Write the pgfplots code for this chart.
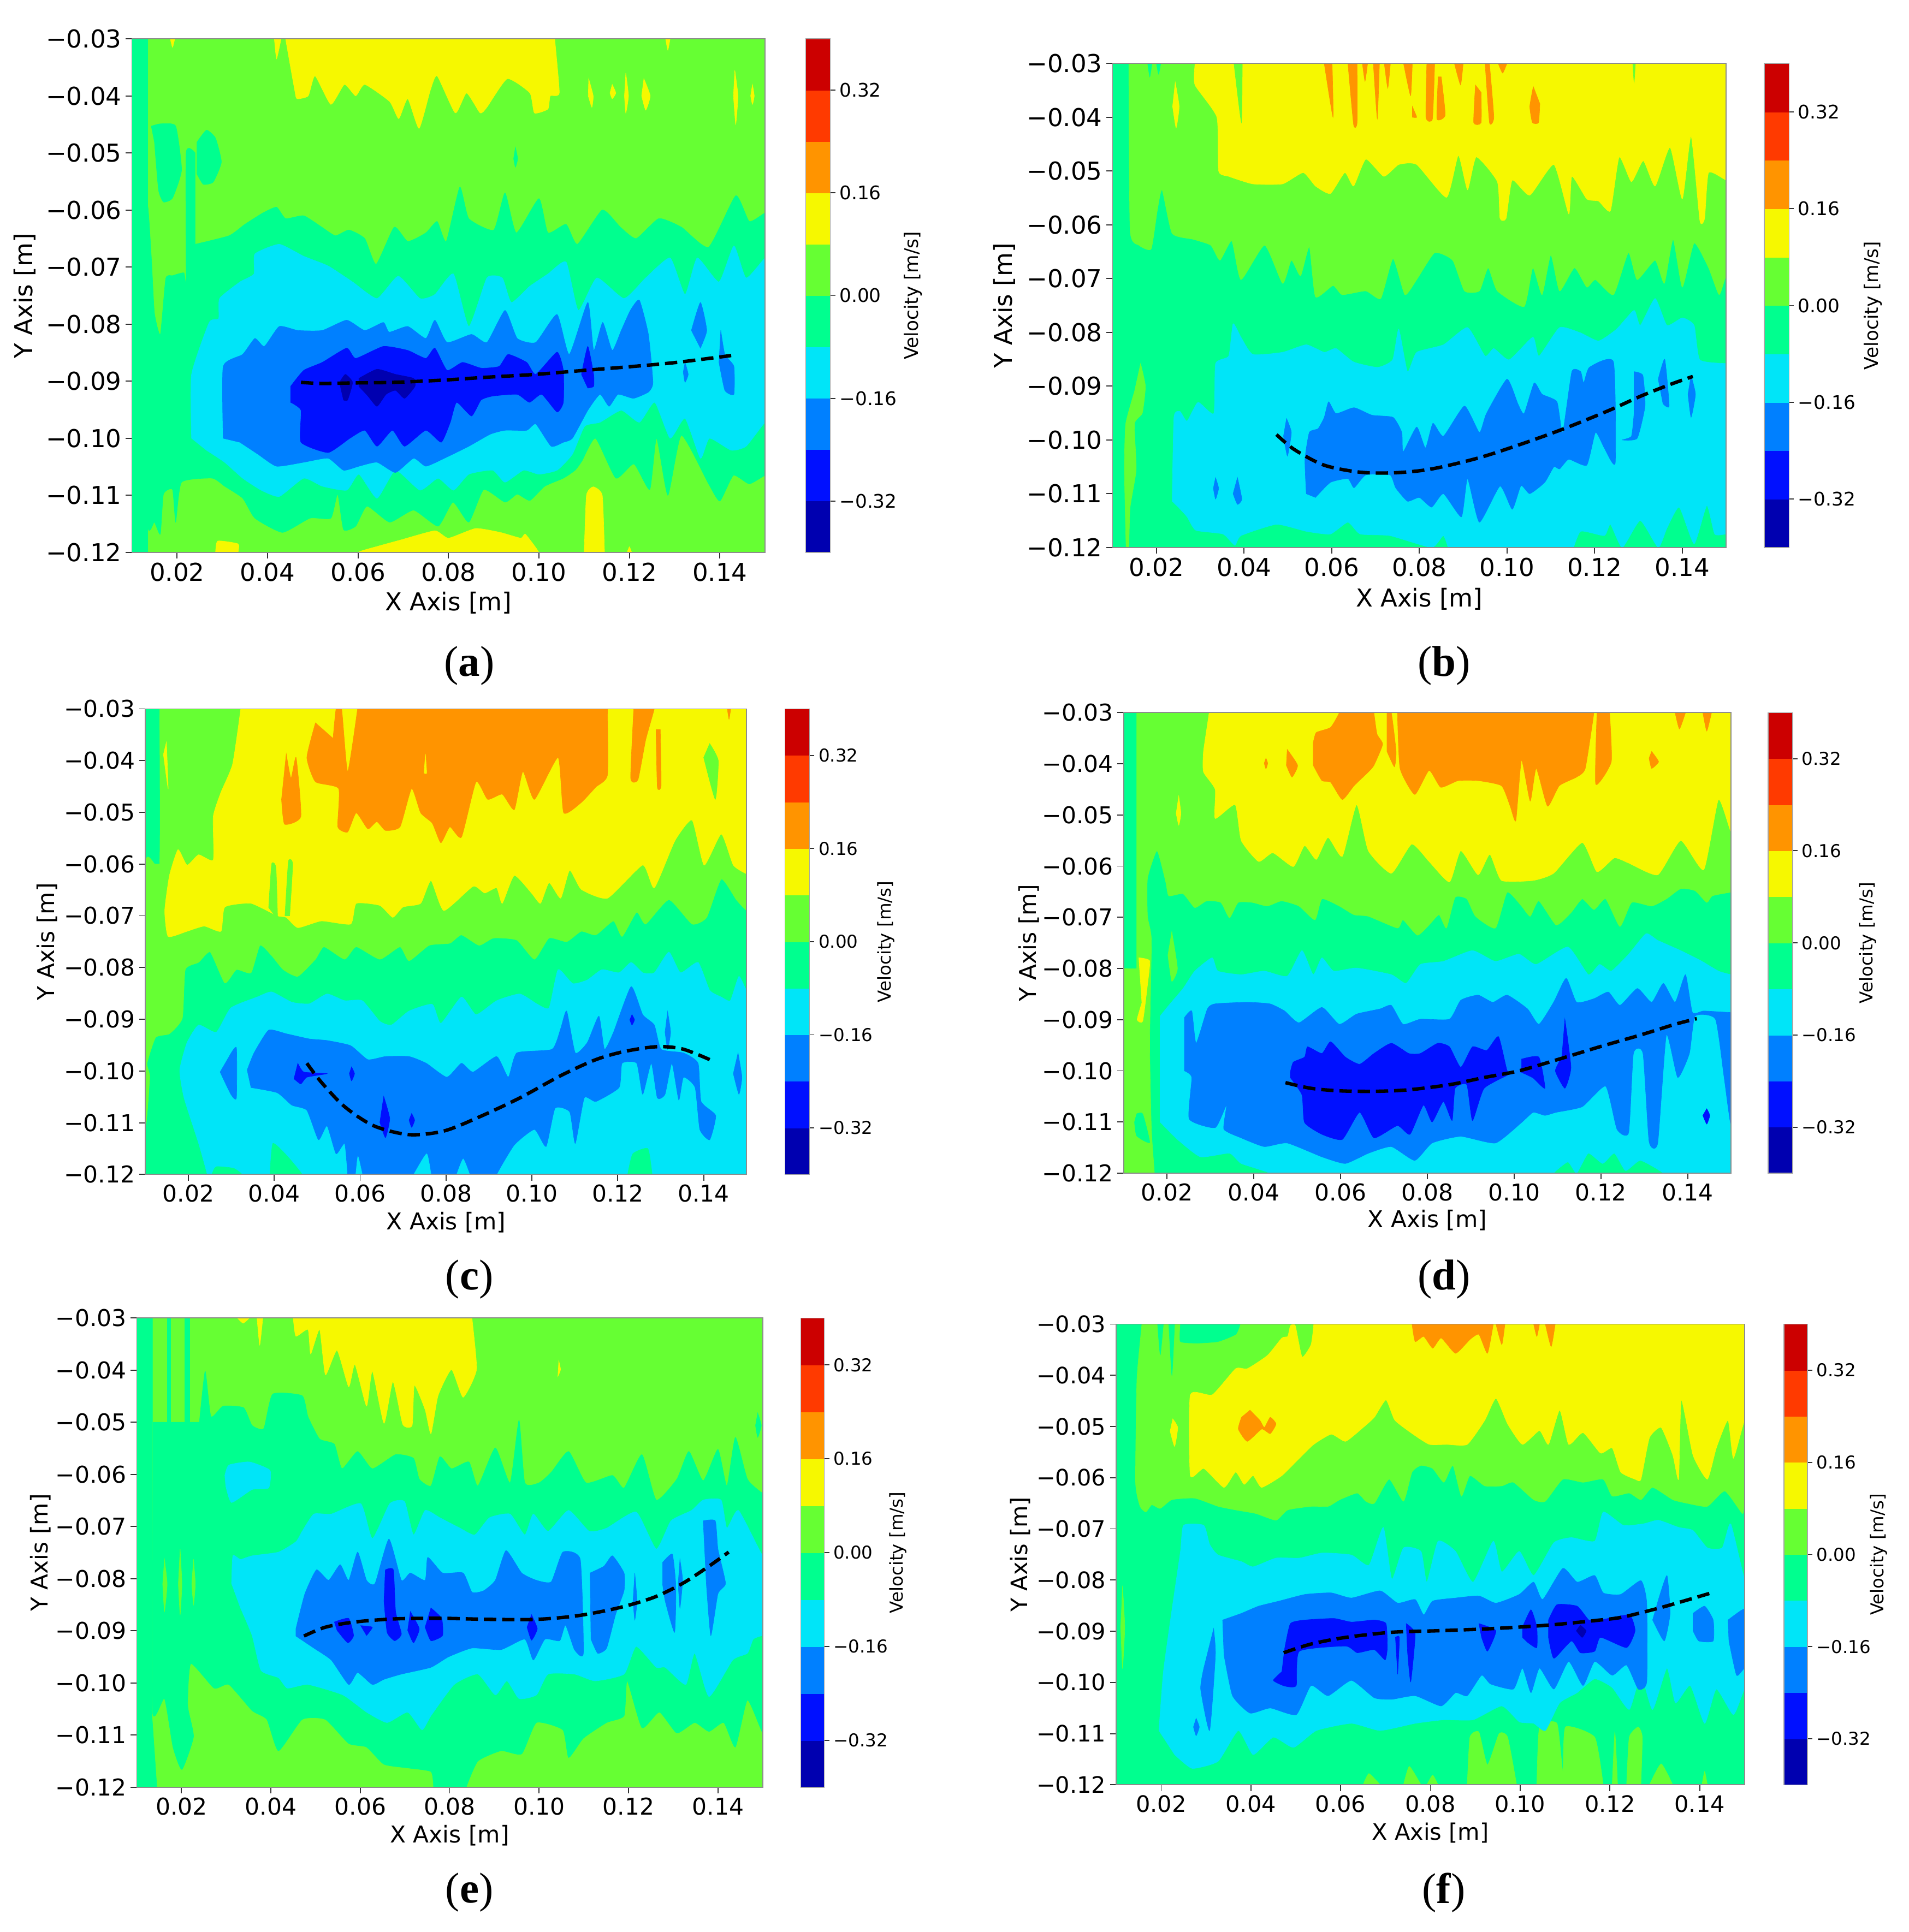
\documentclass[border=0pt]{standalone}
\usepackage{fontspec}
\setmainfont{DejaVu Sans}
\newfontfamily\capfont{Liberation Serif}
\usepackage{pgfplots}
\pgfplotsset{compat=1.18}

\definecolor{lvN}{HTML}{0000B0}
\definecolor{lvB}{HTML}{0010FF}
\definecolor{lvA}{HTML}{0080FF}
\definecolor{lvC}{HTML}{00E5F8}
\definecolor{lvS}{HTML}{00FF8F}
\definecolor{lvG}{HTML}{66FF33}
\definecolor{lvY}{HTML}{F6F800}
\definecolor{lvO}{HTML}{FF9400}
\definecolor{lvR}{HTML}{FF3A00}
\definecolor{lvD}{HTML}{CC0000}

% contour outlines are read off the figure, in mm (tick labels are in m)
\newcommand{\band}[2]{\addplot[fill=#1,draw=#1,line width=0.15pt] coordinates {#2} -- cycle;}
\newcommand{\reg}[2]{\addplot[smooth,tension=0.3,fill=#1,draw=#1,line width=0.15pt] coordinates {#2} -- cycle;}
\newcommand{\dashline}[1]{\addplot[black,smooth,line width=1.4pt,dash pattern=on 5pt off 2.4pt] coordinates {#1};}

\pgfplotsset{
  panel/.style n args={7}{
    at={(#1pt,#2pt)}, anchor=south west, scale only axis, width=#3pt, height=#4pt,
    xmin=10, xmax=150, ymin=-120, ymax=-30, axis on top,
    xtick={20,40,60,80,100,120,140},
    xticklabels={0.02,0.04,0.06,0.08,0.10,0.12,0.14},
    ytick={-120,-110,-100,-90,-80,-70,-60,-50,-40,-30},
    yticklabels={−0.12,−0.11,−0.10,−0.09,−0.08,−0.07,−0.06,−0.05,−0.04,−0.03},
    xtick pos=bottom, ytick pos=left,
    tick align=outside, major tick length=2.5pt, tick style={black!80,line width=0.4pt},
    axis line style={black!45,line width=0.4pt},
    ticklabel style={font=\fontsize{#5}{#5}\selectfont, inner sep=1.5pt},
    xlabel={X Axis [m]}, ylabel={Y Axis [m]},
    label style={font=\fontsize{#5}{#5}\selectfont},
    x label style={at={(axis description cs:0.5,0)},anchor=center,yshift=-#6pt},
    y label style={at={(axis description cs:0,0.5)},anchor=center,yshift=#7pt},
  },
}

\newcommand{\cbar}[6]{%
  \begin{axis}[at={(#1pt,#2pt)}, anchor=south west, scale only axis, width=#4pt, height=#3pt,
    xmin=0, xmax=1, ymin=-0.4, ymax=0.4, xtick=\empty, axis on top,
    ytick={-0.32,-0.16,0,0.16,0.32}, yticklabels={−0.32,−0.16,0.00,0.16,0.32},
    ytick pos=right, yticklabel pos=right, tick align=outside, major tick length=2pt,
    tick style={black!80,line width=0.4pt}, axis line style={black!35,line width=0.3pt},
    yticklabel style={font=\fontsize{#6}{#6}\selectfont, anchor=west, inner sep=1.5pt},
    ylabel={Velocity [m/s]},
    y label style={font=\fontsize{#6}{#6}\selectfont, at={(axis description cs:0,0.5)},
      anchor=center, yshift=-#5pt},
  ]
    \band{lvN}{(0,-0.40)(1,-0.40)(1,-0.32)(0,-0.32)}
    \band{lvB}{(0,-0.32)(1,-0.32)(1,-0.24)(0,-0.24)}
    \band{lvA}{(0,-0.24)(1,-0.24)(1,-0.16)(0,-0.16)}
    \band{lvC}{(0,-0.16)(1,-0.16)(1,-0.08)(0,-0.08)}
    \band{lvS}{(0,-0.08)(1,-0.08)(1,0.00)(0,0.00)}
    \band{lvG}{(0,0.00)(1,0.00)(1,0.08)(0,0.08)}
    \band{lvY}{(0,0.08)(1,0.08)(1,0.16)(0,0.16)}
    \band{lvO}{(0,0.16)(1,0.16)(1,0.24)(0,0.24)}
    \band{lvR}{(0,0.24)(1,0.24)(1,0.32)(0,0.32)}
    \band{lvD}{(0,0.32)(1,0.32)(1,0.40)(0,0.40)}
  \end{axis}}

\begin{document}
\begin{tikzpicture}
\path[use as bounding box] (0,0) rectangle (774.5pt,784.25pt);

% ---------- (a)
\begin{axis}[panel={53.5}{560}{257}{208.5}{10}{20.5}{43.5}]
\band{lvG}{(10,-120)(150,-120)(150,-30)(10,-30)}
\reg{lvS}{(24,-66)(31.5,-64.5)(35,-62.5)(39,-60.5)(42,-59.5)(44,-61.5)(48,-61)(52,-63)(55,-64.5)(58,-63.5)(61.5,-65)(64,-69.5)(68,-63)(71,-65.5)(75,-64)(77.5,-62)(79.5,-65.5)(82.5,-56)(84.5,-61.5)(90,-63.5)(92.5,-57)(95,-64)(100,-58)(102,-64)(106,-62.5)(108.5,-66)(114,-60)(118,-63)(121.5,-65)(126.5,-61.5)(131.5,-63)(137.5,-66.5)(143.5,-57.5)(146.5,-62)(150,-60.5)(152,-60.5)(152,-106.5)(150,-106.5)(146.5,-108)(143,-106.5)(140,-111)(137.5,-108)(131.5,-99.5)(128.5,-110)(126,-100)(124.5,-109)(121,-104.5)(117,-107)(112.5,-100)(109.5,-104)(108,-105.6)(105.4,-107)(101.3,-108.4)(98,-110.9)(95.2,-109.8)(92.5,-111.2)(87.8,-109)(84.5,-114.7)(81,-111.2)(77.7,-115.4)(72.3,-112.6)(67,-114.7)(62,-111.9)(59.5,-115.4)(56.8,-116)(55.5,-109.8)(54,-114)(49.4,-114)(43.3,-116.5)(37.2,-114)(34.5,-110.5)(30.5,-108.4)(27.8,-107)(21,-107.7)(19.7,-114.7)(19,-109)(17,-109.8)(16.3,-116.8)(15,-114.7)(13.4,-114)(13.4,-60)(14.3,-68)(15,-78)(16.3,-81.8)(17.5,-72)(19,-71.5)(21.5,-71)(22,-72.5)(22,-50)(24,-50)}
\band{lvS}{(10,-120)(13.5,-120)(13.5,-30)(10,-30)}
\reg{lvS}{(14.3,-45.3)(16.3,-44.9)(19.7,-45.3)(21,-53)(19,-57.9)(17,-58.6)(15.9,-56.5)(15,-48.1)}
\reg{lvS}{(24.4,-48.1)(26.5,-46)(28.5,-47.4)(29.8,-51.6)(28,-55.1)(25.8,-55.5)(24.4,-53.7)}
\reg{lvS}{(94.8,-49)(95.3,-51)(94.8,-52.5)(94.4,-51)}
\reg{lvY}{(44,-28)(44,-30)(46,-39)(46.5,-40.5)(49,-40)(50.5,-36.5)(54,-41.5)(57,-38)(59.5,-40)(61.5,-38)(67,-41)(69,-44)(71,-40.5)(73.5,-45.7)(76,-39)(77.5,-36.5)(81.5,-43)(84,-39.5)(87,-43)(88.5,-42)(93,-37)(98,-39.5)(99,-43)(102,-42.3)(102.5,-40)(104.5,-39.5)(103.5,-30)(103.5,-28)}
\reg{lvY}{(41.5,-30)(42,-33.5)(43,-30)}
\reg{lvY}{(18.5,-30)(19,-31.5)(19.5,-30)}
\reg{lvY}{(128,-30)(128.5,-32)(129,-30)}
\reg{lvY}{(111,-37)(112,-40)(111.7,-42)(110.9,-40)}
\reg{lvY}{(116.2,-38)(117,-39.5)(116.2,-40.5)(115.7,-39.5)}
\reg{lvY}{(119.2,-36)(119.8,-40)(119.2,-43)(118.9,-40)}
\reg{lvY}{(123.2,-37)(124.6,-40)(123.6,-42.5)(122.7,-40)}
\reg{lvY}{(143.3,-35.5)(144,-40)(143.5,-45)(143,-40)}
\reg{lvY}{(147.2,-38)(147.6,-40)(147.2,-41.5)(146.8,-40)}
\reg{lvY}{(28.5,-122)(28.5,-120)(29,-118)(33.5,-118.5)(33.5,-120)(33.5,-122)}
\reg{lvY}{(60,-122)(60,-120)(64,-119)(69.5,-117.8)(77,-116.2)(80,-117.5)(86,-115.8)(91.5,-116.5)(96,-117.5)(97,-116.8)(100,-120)(100,-122)}
\reg{lvY}{(110,-122)(110,-120)(110.5,-110)(112,-108.5)(114,-110)(114.5,-120)(114.5,-122)}
\reg{lvY}{(119.5,-120)(120,-119)(120.5,-120)}
\reg{lvC}{(23.2,-100)(23.2,-88.8)(27.1,-79.7)(29.2,-79)(29.4,-75.5)(33.9,-72.6)(37,-71.2)(37.2,-67.7)(42.6,-66)(48,-68.1)(53.4,-69.8)(58.8,-72.6)(64.2,-75.5)(68.9,-71.6)(73.7,-75.5)(77,-74.8)(81.1,-71.2)(84.5,-80.4)(88.5,-71.9)(91.9,-71.9)(93.9,-76.2)(97.9,-73.4)(102,-71.2)(106,-69.1)(108.7,-77.6)(112.8,-71.9)(118.8,-75.5)(123.6,-71.9)(129,-68.4)(132.3,-74.8)(135,-68.4)(139.8,-72.6)(143.1,-66.3)(145.8,-71.9)(150,-68.4)(152,-68.4)(152,-97.2)(150,-97.2)(145.8,-101.4)(142.5,-102.1)(137.7,-100)(135.7,-103.5)(132.3,-96.5)(129,-100)(125.6,-93.7)(122.2,-97.2)(118.2,-95.1)(113.5,-97.2)(110.1,-97.9)(107.4,-102.8)(104,-105.6)(100,-106.3)(96.6,-105.6)(92.5,-107.7)(89.8,-105.6)(84.5,-106.3)(81.1,-109.1)(77.7,-107)(73.7,-109.1)(68.3,-105.6)(64.2,-110.5)(60.2,-106.3)(57.5,-109.1)(52.1,-108.4)(48,-107)(42.6,-110.2)(38.6,-109.1)(34.5,-107)(30.5,-104.2)(26.5,-102.1)}
\reg{lvA}{(30.2,-100)(30.2,-87.4)(34.5,-85.3)(37.2,-82.5)(39.3,-83.9)(42.6,-80.4)(46.7,-81.1)(52.1,-81.1)(57.5,-79.3)(61.5,-81.1)(65.6,-79.7)(66.9,-81.4)(71,-80.4)(75,-82.5)(77,-79.3)(79.7,-83.2)(85.1,-81.8)(88.5,-83.2)(92.5,-77.6)(95.2,-82.5)(99.3,-83.2)(104,-78.3)(106.7,-85.3)(110.8,-76.2)(112.1,-84.6)(114.1,-79.7)(116.2,-84.6)(118.2,-81.1)(120.2,-77.6)(122.2,-75.8)(124.2,-81.8)(125.2,-90.2)(124.2,-91.9)(120.9,-93)(117.5,-92.3)(115.5,-94.4)(113.5,-92.3)(110.8,-95.1)(107.4,-100)(105.4,-100.7)(102.7,-101.4)(99.3,-97.5)(97.3,-98.6)(92.5,-98.6)(89.2,-99.3)(84.5,-101.4)(79.1,-103.5)(75,-104.9)(72.3,-103.5)(68.3,-106)(64.2,-104.2)(60.2,-104.9)(56.8,-105.6)(53.4,-103.5)(48,-104.2)(42,-104.9)(37.9,-102.8)(33.9,-100.7)}
\reg{lvA}{(133.7,-81.1)(135.7,-76.2)(137.1,-81.1)(135.7,-84.2)}
\reg{lvA}{(140.2,-81.1)(141.1,-85.3)(143.1,-87.4)(143.1,-92.3)(141.1,-91.6)(139.8,-86.7)}
\reg{lvA}{(132.3,-86.7)(133,-88.8)(132.3,-90.2)(131.9,-88.4)}
\reg{lvB}{(45.1,-90.9)(48,-88.1)(52.1,-86.7)(57.5,-84.2)(59.5,-86)(65.6,-83.9)(71,-84.6)(75,-86)(77,-84.2)(79.7,-88.1)(83.1,-86.7)(87.2,-87.7)(91.2,-87.4)(93.2,-85.3)(97.3,-86.7)(99.3,-88.8)(104,-84.9)(105.4,-88.1)(105.4,-93.7)(104,-95.4)(100.6,-92.3)(97.9,-93.7)(95.2,-92.3)(89.8,-92.6)(87.2,-93.3)(85.1,-96.1)(81.8,-93.7)(80.4,-97.2)(78.4,-100.7)(75,-98.6)(70.3,-101.4)(67.6,-98.6)(64.2,-101.4)(61.5,-98.6)(58.2,-100)(53.4,-102.5)(47.4,-100.7)(47.4,-95.1)(45.1,-93.7)}
\reg{lvB}{(109.4,-88.8)(110.8,-83.9)(112.1,-88.8)(112.1,-90.9)(110.8,-91.2)}
\reg{lvN}{(55.9,-90.2)(57.2,-88.8)(58.8,-90.2)(57.7,-93.3)(56.8,-93.3)}
\reg{lvN}{(60.2,-89.5)(64.2,-87.9)(68.3,-88.8)(72.3,-89.5)(72.6,-90.9)(70.3,-93)(68.3,-91.6)(66.2,-92.3)(64.2,-94.4)(62.2,-92.6)(60.2,-90.9)}
\dashline{(47.4,-90.2)(52,-90.4)(59,-90.3)(68,-90.2)(79,-89.8)(88.5,-89.3)(99.3,-88.8)(110,-88.1)(121,-87.4)(130.5,-86.7)(142.5,-85.5)}
\end{axis}
\cbar{327}{560}{208.5}{10}{43.5}{7.6}

% ---------- (b)
\begin{axis}[panel={451.5}{562}{249}{196.5}{10}{21}{44}]
\band{lvS}{(10,-120)(150,-120)(150,-30)(10,-30)}
\reg{lvG}{(13.7,-28)(13.7,-30)(14,-61)(16,-63.8)(18.8,-64.5)(20.2,-57.4)(21.3,-53.5)(23.6,-61.6)(28.4,-62.7)(32.4,-63.8)(34.5,-66.6)(37.2,-63)(39.3,-70.2)(44.7,-63.8)(48.8,-70.9)(50.8,-66.6)(52.9,-69.5)(54.9,-64.1)(56.3,-73.4)(60.3,-71.3)(62.4,-73)(67.8,-72.3)(71.2,-73.7)(74,-66.3)(76.7,-73)(79.4,-70.2)(83.5,-65.2)(87.6,-66.6)(90.3,-72.3)(93.7,-72.3)(95.7,-68)(97.8,-72.3)(103.9,-75.2)(105.9,-68)(108,-73)(110,-65.6)(112,-72.3)(115.4,-68)(118.2,-71.6)(120.2,-70.2)(124.3,-73)(127.7,-65.2)(129.7,-70.2)(133.8,-66.6)(135.9,-70.9)(137.9,-62.7)(140,-71.6)(142.7,-63.4)(146,-68)(148.4,-73)(150,-69.5)(152,-69.5)(152,-28)}
\reg{lvS}{(18,-30)(18.5,-32.5)(19,-30)}
\reg{lvS}{(20,-30)(20.5,-32)(21,-30)}
\reg{lvG}{(16.4,-85.8)(17.5,-90)(16.8,-95)(15,-97)(15.4,-105.5)(14,-112.6)(13.7,-120)(13.1,-120)(12.7,-105.5)(13,-97)(15,-91)}
\reg{lvY}{(28.8,-28)(28.8,-30)(28.8,-34)(33.8,-40)(34.2,-50)(36.5,-51)(42,-52.4)(48.8,-52.4)(53.5,-50.3)(56.3,-52.8)(59.7,-54.2)(63,-50.3)(65,-52.8)(67.8,-47.8)(71.9,-51)(75.3,-48.8)(79.4,-48.8)(86.2,-54.9)(88.9,-47.1)(91,-53.5)(93,-47.4)(97.8,-52)(98.4,-58.8)(99.8,-58.8)(101.2,-51.7)(105.2,-54.5)(110.7,-48.8)(114.1,-58)(114.8,-51)(118.2,-55.2)(120.9,-55.6)(123.6,-57.4)(125.6,-47.4)(128.4,-52)(131.1,-48.1)(133.8,-52.8)(137.2,-45.6)(140,-55.2)(142,-43.5)(144,-59.2)(145.1,-58.8)(146,-50.3)(150,-51.7)(152,-51.7)(152,-28)}
\reg{lvG}{(37.7,-30)(39.4,-41)(39.6,-30)}
\reg{lvG}{(128.7,-30)(129,-33.5)(129.3,-30)}
\reg{lvY}{(24.3,-33.5)(25.2,-38)(24.5,-42)(23.7,-38)}
\reg{lvO}{(58.3,-30)(60.3,-40)(60.1,-30)}
\reg{lvO}{(63.7,-30)(65,-41.4)(65.8,-41)(65.8,-30)}
\reg{lvO}{(67,-30)(67.6,-33.3)(68.2,-30)}
\reg{lvO}{(69.5,-30)(70.4,-40.3)(70.9,-30)}
\reg{lvO}{(72,-30)(72.8,-34.6)(73.4,-30)}
\reg{lvO}{(76.4,-30)(78,-36)(78.4,-30)}
\reg{lvO}{(78.4,-38)(79.4,-40)(78.4,-40)}
\reg{lvO}{(81.7,-30)(81.5,-40)(83,-40.3)(83.5,-30)}
\reg{lvO}{(84.3,-32.5)(84,-40.3)(85.9,-39.6)(85,-32.5)}
\reg{lvO}{(88,-30)(89.4,-34)(90,-30)}
\reg{lvO}{(92.8,-34)(92.4,-41)(94.1,-41)(94.1,-35.4)}
\reg{lvO}{(95,-30)(96,-41)(97,-40)(96,-30)}
\reg{lvO}{(98,-30)(99,-31.8)(100,-30)}
\reg{lvO}{(106,-34.3)(105.2,-38)(105.8,-41)(107.2,-41)(107.5,-37.5)}
\reg{lvC}{(23.6,-111.4)(24,-95.8)(25.4,-94.7)(27,-96.5)(29.5,-93)(33.1,-95.1)(33.5,-85.8)(36.5,-84.4)(37.5,-78.4)(39.3,-80.9)(42,-84.1)(48.8,-83.7)(54.2,-82.3)(58.3,-83.7)(61,-83)(65,-85.5)(70.5,-86.5)(73.9,-85.1)(75.3,-79.4)(77.3,-87.3)(79.4,-83.7)(85.5,-82.3)(91,-79.1)(95,-84.4)(97,-83)(100.5,-85.1)(105.9,-80.9)(107.3,-84.4)(112,-79.1)(116.8,-80.1)(120.9,-81.6)(125,-79.4)(129,-75.9)(130.4,-78.7)(133.8,-73.7)(136.5,-78.7)(140,-77.3)(142.7,-78.7)(144,-85.1)(150,-85.8)(152,-85.8)(152,-117.5)(150,-117.5)(147.4,-117.5)(145.6,-112.2)(142.7,-119.3)(139.3,-112.5)(136.5,-116.4)(134.5,-120)(130.4,-115)(126.3,-120)(123.6,-115.7)(122.2,-117.8)(116.8,-117)(114.8,-121)(114.8,-122)(86.9,-122)(86.9,-121)(85.5,-117.8)(82.8,-120)(73.3,-117.8)(66.5,-117.5)(63.7,-115.3)(59.7,-117.5)(54.2,-117)(47.4,-115.7)(39.3,-117.8)(37.9,-119.6)(35.2,-117.5)(29,-116.8)(27,-114.3)(25,-112.5)}
\reg{lvA}{(54.2,-110)(53.9,-103.6)(54.9,-98.6)(56.9,-97.9)(58.3,-95.8)(59.3,-92.9)(61,-95.1)(65.1,-94)(69.2,-95.4)(74,-95.8)(76,-98.6)(76.3,-102.2)(79.4,-97.6)(81.4,-101.5)(83.1,-96.9)(85.5,-99.3)(90.3,-93.7)(93.7,-98.6)(95.3,-95.1)(100,-88.7)(102.5,-93.3)(103.9,-95.1)(106.2,-89.4)(108,-91.5)(111.4,-92.9)(112.7,-98.6)(114.8,-87.3)(116.8,-87.3)(117.5,-89.4)(118.8,-86.5)(124.3,-85.5)(124.7,-104.3)(122.2,-101.5)(120.2,-98.6)(118.2,-104.7)(114.1,-103.6)(112,-105.4)(110.7,-105)(108.6,-107.9)(105.2,-110)(103.2,-108.5)(101.2,-112.9)(98.4,-108.6)(93.7,-115.3)(91,-107.2)(89.6,-114.3)(85.5,-110)(82.8,-112.5)(80,-110.7)(77.3,-111.4)(74.6,-108.9)(73.3,-106.5)(67.8,-106.5)(65.1,-108.9)(63.7,-107.2)(59.7,-107.9)(56.3,-110.7)}
\reg{lvA}{(129,-87.3)(131,-88)(131.5,-93.7)(129.7,-99.7)(126.3,-100)(128.4,-99.3)(129,-95)}
\reg{lvA}{(134.5,-88.7)(136,-85)(137,-93.7)(135.6,-93.3)}
\reg{lvA}{(142,-88)(143,-91.5)(142,-95.8)(141.3,-91.5)}
\reg{lvA}{(49.7,-96)(50.8,-98.6)(49.9,-103)(49,-99.3)}
\reg{lvA}{(33.5,-107)(34.2,-109)(33.5,-111)(33,-109)}
\reg{lvA}{(38.5,-107)(39.5,-111)(38.5,-112)(37.5,-110)}
\dashline{(47.4,-99)(51.5,-101.8)(58.3,-104.7)(66.5,-106)(74.6,-106.1)(82.8,-105.4)(93.7,-103.3)(104.6,-100.4)(114,-97.6)(123.6,-94.4)(130.4,-91.9)(137.2,-89.7)(142.4,-88.2)}
\end{axis}
\cbar{716}{562}{196.5}{10}{44}{7.6}

% ---------- (c)
\begin{axis}[panel={59}{307.5}{244}{189}{9.4}{19.5}{40}]
\band{lvS}{(10,-120)(150,-120)(150,-30)(10,-30)}
\band{lvG}{(10,-60)(13.3,-60)(13.3,-70)(10,-100)}
\reg{lvG}{(13.3,-28)(13.3,-60)(10,-60)(10,-109.9)(11,-101.2)(10.4,-98.5)(12.4,-93.5)(15.6,-92.8)(18.6,-89.8)(19.3,-80.4)(22.4,-79)(25.1,-77)(28.5,-83)(31.2,-80.4)(34.6,-81)(36.7,-75.7)(39.4,-77.7)(42.1,-80.4)(45.5,-81.7)(49.6,-78.4)(51.6,-76)(56.4,-78.4)(59.1,-76)(64.6,-78.4)(69.3,-76)(71.4,-78.7)(76.1,-75.7)(80.9,-75.3)(83.6,-73.7)(87.7,-75.7)(91.1,-74.3)(96.5,-74.7)(100.6,-78.4)(104,-74.3)(108.1,-75)(111.5,-73)(114.9,-73.7)(119,-71)(121,-74)(124.4,-69.3)(126.5,-71.6)(131.9,-66.9)(137.3,-71.6)(140.7,-70.3)(144.1,-62.9)(147.6,-66.9)(150,-69)(152,-69)(152,-28)}
\reg{lvY}{(32.2,-28)(32.2,-30)(30.3,-40.7)(27.6,-46.1)(25.8,-50.8)(25.8,-59.2)(22.4,-58.2)(19.7,-60.2)(17.6,-57.2)(15.6,-62.2)(14.5,-69)(15.3,-74)(19.7,-73)(23.7,-72)(27.6,-73)(28.5,-68.3)(34.6,-67.6)(40.7,-70)(42.8,-70.3)(45.5,-72.3)(51,-71)(57.8,-71.6)(59.1,-67.6)(64.6,-68)(67.6,-70.3)(70,-68.3)(74.1,-67.6)(76.5,-63.2)(79.5,-69)(86.3,-64.3)(89,-65.6)(91.8,-64.6)(93.1,-67.6)(95.9,-62.2)(99.9,-65.6)(102,-67.6)(104,-63.6)(106.7,-66.6)(108.8,-61.2)(111.5,-64.9)(117.6,-66.6)(125.8,-60.2)(128.5,-64.6)(133.3,-55.5)(137.3,-51.5)(140.1,-60.2)(144.1,-54.2)(146.9,-60.2)(150,-61.9)(152,-61.9)(152,-28)}
\reg{lvG}{(38.7,-68.4)(39.4,-60)(40.4,-60.7)(40.8,-70.7)}
\reg{lvG}{(42.5,-70)(43.3,-59.5)(44.3,-60)(43.6,-70)}
\reg{lvG}{(141.4,-36.7)(143.4,-40)(142.7,-47.5)(140,-39.4)}
\reg{lvY}{(14.9,-36.4)(15.3,-45.4)(14.2,-38.8)}
\reg{lvO}{(49.6,-32.7)(47.6,-39.4)(49.6,-44.1)(55,-45.4)(54.8,-52.8)(57.1,-53.8)(59.1,-50.1)(61.8,-53.2)(63.9,-51.8)(65.9,-53.5)(69.3,-52.8)(72,-45.4)(74.1,-50.1)(76.8,-52.1)(78.8,-55.9)(80.9,-52.8)(83.6,-54.8)(87,-44.1)(89.7,-47.5)(93.1,-46.5)(95.9,-49.5)(97.9,-42.1)(100.6,-47.5)(106.1,-39.4)(107.4,-50.1)(111.5,-48.1)(114.9,-45.1)(117.6,-42.8)(117.6,-30)(117.6,-28)(59.4,-28)(59.4,-30)(57.1,-42.1)(55.7,-30)(54.4,-30)(53.7,-35.7)}
\reg{lvO}{(42.8,-38.7)(43.9,-43.4)(45.1,-39.4)(46.2,-50.8)(42.4,-52.3)(41.7,-47.5)}
\reg{lvO}{(123.7,-28)(123.7,-30)(123,-43.4)(124.7,-43.7)(126.5,-36)(128.5,-30)(128.5,-28)}
\reg{lvO}{(128.9,-34)(129.2,-45.1)(130.1,-44.8)(129.9,-34)}
\reg{lvO}{(145.5,-30)(145.9,-32)(146.3,-30)}
\reg{lvY}{(75.2,-38.7)(75.5,-42.4)(74.9,-42.4)}
\reg{lvC}{(24.4,-122)(24.4,-120)(22.4,-114)(19,-105.2)(18,-99.8)(19.7,-94.5)(22.4,-91.1)(26.5,-92.5)(29.9,-87.8)(36,-85.7)(39.4,-84.7)(44.1,-86.7)(48.2,-87)(52.3,-85.1)(56.4,-86.4)(60.5,-86.4)(64.6,-90.4)(67.3,-91.1)(71.4,-88.4)(76.8,-87.1)(78.8,-90.8)(83.6,-85.7)(87,-89.1)(91.8,-86.4)(97.2,-85.1)(101.3,-87.1)(104,-87.8)(106.1,-80.4)(109.5,-83.1)(112.9,-82.4)(116.3,-80.4)(120.3,-81)(123.1,-79)(125.8,-81)(128.5,-81)(131.9,-77)(134.6,-81)(138.7,-79)(141.4,-84.4)(144.1,-85.7)(146.2,-86.4)(148.2,-81.7)(150,-84.4)(152,-84.4)(152,-122)}
\reg{lvS}{(25.5,-122)(25.5,-120)(26.5,-118.5)(30.5,-118.8)(32.5,-120)(32.5,-122)}
\reg{lvS}{(39,-122)(39,-120)(39.7,-114)(43.2,-116.6)(46.5,-120)(46.5,-122)}
\reg{lvS}{(122.3,-122)(122.3,-120)(123.5,-116)(127,-115)(128,-120)(128,-122)}
\reg{lvA}{(33.7,-99.8)(35.3,-96.5)(38.7,-92.1)(42.8,-92.8)(48.2,-93.8)(52.3,-94.1)(57.8,-95.1)(61.8,-97.8)(65.9,-97.2)(71.4,-97.2)(75.4,-98.5)(80.2,-101.2)(83.6,-98.5)(86.3,-100.2)(91.8,-97.2)(94.5,-101.2)(96.5,-96.5)(104.7,-95.8)(106.7,-91.8)(108.1,-88.4)(110.1,-96.5)(112.9,-94.5)(115.6,-89.4)(116.9,-95.8)(119,-92.5)(123.1,-83.7)(125.8,-89.1)(128.5,-91.1)(130.1,-95.8)(135.3,-96.5)(138.7,-98.5)(139.4,-105.9)(142.8,-108.6)(141.4,-113.3)(139.1,-111.3)(138,-103.2)(135.3,-101.2)(134.2,-105.6)(132.6,-98.5)(131,-104.5)(129.2,-105.2)(127.8,-98.5)(125.8,-104.5)(124.4,-98.5)(121,-98.5)(120.3,-103.2)(114.9,-105.9)(112.2,-105.2)(110.1,-114)(108.8,-107.9)(105.4,-107.2)(103.3,-114.6)(100.6,-111.3)(95.9,-114.3)(91.8,-120)(91.8,-122)(57.1,-122)(57.1,-120)(56.4,-114)(54.4,-116)(52.3,-110.6)(50.3,-113.3)(47.6,-107.6)(44.1,-106.6)(40.7,-104.2)(34.6,-103.2)}
\reg{lvA}{(29.5,-97.2)(31.2,-95.5)(31.2,-105.2)(29.9,-104.5)(27.4,-100.2)}
\reg{lvA}{(148,-96.5)(148.9,-101.2)(148.2,-104.5)(146.9,-100.5)}
\reg{lvA}{(131.6,-88.5)(132.3,-92.5)(131.6,-95.8)(131,-92.5)}
\reg{lvC}{(59,-120)(59.5,-116.5)(60.5,-120)}
\reg{lvC}{(72.5,-120)(75.5,-116)(76.5,-120)}
\reg{lvC}{(82.5,-120)(84,-117)(85.5,-120)}
\reg{lvB}{(45.5,-98.5)(46.9,-100.2)(52.3,-100.5)(47.6,-101.2)(46.2,-102.5)(44.6,-101.5)}
\reg{lvB}{(58,-99.2)(58.7,-100.5)(58,-101.9)(57.5,-100.5)}
\reg{lvB}{(65.5,-104.9)(66.9,-109.2)(65.9,-112.9)(64.6,-109.9)}
\reg{lvB}{(72,-108.2)(72.7,-109.5)(72,-110.9)(71.4,-109.5)}
\reg{lvB}{(123.3,-89.1)(123.9,-90.1)(123.3,-91.1)(122.8,-90.1)}
\dashline{(47.6,-98.5)(51,-102.2)(56.4,-106.9)(63.2,-110.6)(71.4,-112.3)(79.5,-111.6)(87.7,-108.9)(97.2,-105.2)(106.7,-100.9)(114.9,-97.8)(121.7,-96.2)(129.2,-95.3)(135.3,-95.8)(142.5,-98.2)}
\end{axis}
\cbar{318.5}{307.5}{189}{10}{41}{7.2}

% ---------- (d)
\begin{axis}[panel={456}{308}{246.5}{187}{9.4}{19}{38.5}]
\band{lvS}{(10,-120)(150,-120)(150,-30)(10,-30)}
\reg{lvG}{(10,-122)(17.1,-122)(17.1,-120)(16.4,-111.4)(16,-94.6)(16.4,-74.5)(15.5,-69.8)(15.5,-62.4)(17.7,-57)(19.7,-63.1)(20.4,-65.8)(23.7,-65.4)(26.4,-68.1)(29.1,-66.8)(32.4,-67.1)(34.4,-70.1)(36.4,-67.1)(39.7,-67.1)(43.1,-67.8)(46.4,-66.8)(50.4,-67.8)(54.1,-70.5)(55.7,-66.4)(59.7,-67.8)(63.1,-69.5)(66.4,-69.8)(73.1,-72.1)(74.4,-70.5)(77.7,-73.5)(80.4,-71.5)(82.7,-69.5)(84.4,-72.1)(86.4,-66.1)(89.1,-66.4)(91.1,-69.8)(95.7,-72.1)(98.4,-65.1)(101.7,-67.8)(103.7,-69.8)(105.7,-66.8)(109.7,-71.5)(113.1,-69.1)(115.7,-66.4)(118.4,-68.5)(121.1,-66.4)(124.4,-71.8)(127.1,-67.1)(131.7,-67.8)(135.1,-66.4)(138.4,-64.4)(141.7,-64.8)(144.4,-67.1)(145.7,-65.8)(150,-65.1)(152,-65.1)(152,-28)(13,-28)(13,-30)(13,-79)(13,-80)(10,-80)(8,-80)(8,-122)}
\reg{lvS}{(13,-108.4)(14.4,-108.4)(16,-114)(13,-112.7)(12.5,-110)}
\reg{lvY}{(13.5,-77.9)(16,-78.5)(15.5,-83.2)(14.4,-90.3)(13.1,-90)(14.2,-86.7)}
\reg{lvG}{(21.1,-72.8)(22.4,-80)(21.1,-82.5)(20.2,-77.4)}
\reg{lvY}{(22.7,-46.3)(23.2,-49.7)(22.7,-52)(22.1,-49.7)}
\reg{lvY}{(29.7,-28)(29.7,-30)(28.4,-37.6)(28.4,-41.6)(31.1,-45)(31.1,-50.7)(35.7,-48)(37.1,-55)(41.1,-59.1)(44.4,-57.4)(49.1,-60.1)(51.7,-56)(54.4,-58.7)(57.1,-54.4)(60.4,-58.1)(63.7,-48)(66.4,-57)(71.7,-61.4)(76.4,-55.7)(80.4,-59.1)(85.1,-63.1)(87.7,-57)(91.7,-61.7)(94.4,-57.7)(97.1,-62.8)(104.4,-62.8)(109.1,-61.4)(115.7,-55.4)(119.1,-61.1)(123.1,-58.4)(126.4,-59.4)(133.1,-61.7)(138.4,-55)(143.7,-60.7)(147.1,-47)(150,-53.4)(152,-53.4)(152,-28)}
\reg{lvO}{(53.7,-35.9)(54.4,-33.9)(57.7,-32.9)(59.7,-30)(59.7,-28)(67.7,-28)(67.7,-30)(68.4,-34.2)(69.7,-36.2)(67.7,-40.3)(66.4,-41.6)(63.1,-44.3)(60.4,-47)(57.7,-43.6)(55.7,-43.3)(53.7,-40.3)}
\reg{lvO}{(70.7,-37.6)(72.4,-40.6)(72.8,-37.6)(71.7,-30)(70.7,-30)}
\reg{lvO}{(73.1,-28)(73.1,-30)(73.7,-40.9)(77.1,-46)(80.4,-41.3)(83.1,-44.6)(87.1,-43.3)(91.7,-43.3)(97.1,-44.3)(99.1,-48.3)(100.4,-51.1)(101.7,-39.3)(103.7,-47.3)(105.1,-40.9)(107.7,-48.3)(110.4,-44.3)(114.4,-42.6)(116.4,-40.9)(118.4,-30)(118.4,-28)}
\reg{lvO}{(119.1,-30)(118.8,-44)(122.4,-39.6)(122,-30)}
\reg{lvO}{(47.7,-37.2)(50.1,-40.3)(48.8,-42.6)(47.5,-40.3)}
\reg{lvO}{(42.8,-38.9)(43.2,-39.9)(42.8,-41)(42.4,-39.9)}
\reg{lvO}{(131.7,-37.6)(133.3,-39.6)(131.7,-40.9)(131.1,-38.9)}
\reg{lvO}{(137.1,-30)(138.1,-33.2)(139.5,-30)}
\reg{lvO}{(143.5,-30)(144.4,-33.6)(145.5,-30)}
\reg{lvC}{(18.4,-89.3)(20.4,-87.2)(23.7,-83.9)(26.4,-80.5)(30.4,-77.9)(31.7,-80.5)(37.1,-81.2)(42.4,-80.5)(47.7,-81.5)(51.1,-76.5)(53.7,-81.2)(55.7,-77.9)(58.4,-80.5)(63.7,-79.9)(71.7,-81.2)(75.1,-82.9)(78.4,-79.2)(83.7,-78.6)(90.4,-76.5)(95.7,-78.6)(101.1,-77.2)(105.1,-79.2)(112.4,-75.8)(117.1,-81.2)(119.7,-79.2)(122.4,-80.5)(126.4,-77.2)(130.4,-73.2)(133.1,-74.5)(138.4,-76.5)(143.1,-78.5)(147.1,-80.5)(150,-81.2)(152,-81.2)(152,-122)(134.4,-122)(134.4,-120)(129.1,-117.5)(125.7,-119.5)(123.1,-116.1)(120.4,-118.1)(117.1,-116.1)(114.4,-120)(112.4,-117.8)(109.1,-120)(109.1,-122)(43.7,-122)(43.7,-120)(37.1,-118.1)(34.4,-116.1)(27.7,-116.8)(22.4,-113.4)(18.4,-110)}
\reg{lvA}{(24,-89.6)(25.7,-88.3)(26.7,-94.6)(29.3,-87.9)(31.1,-86.9)(38.4,-86.6)(43.7,-86.9)(47.1,-88.3)(50.4,-90.6)(55.7,-87.6)(59.7,-90.9)(63.7,-88.9)(69.1,-87.9)(71.7,-87.2)(74.4,-90.9)(78.4,-89.9)(85.1,-89.9)(87.7,-86.2)(91.7,-85.2)(95.1,-86.6)(98.4,-85.2)(103.1,-87.9)(105.7,-90.9)(109.1,-86.6)(112,-81.9)(114.4,-86.6)(118.4,-85.9)(121.7,-84.6)(124.4,-87.2)(128.4,-83.9)(131.7,-86.6)(134.4,-82.9)(137.1,-86.6)(139.5,-81.2)(141.1,-88.6)(143.7,-88.3)(150,-88.6)(152,-88.6)(152,-110.8)(150,-110.8)(148.4,-101.3)(146.4,-89.9)(141.7,-89.3)(140.4,-96.6)(137.7,-101.3)(135.1,-93)(133.1,-114.1)(131.1,-113.8)(129.7,-96.6)(127.5,-96.6)(126.4,-112.1)(123.7,-111.4)(121.1,-103)(115.7,-107)(109.7,-108.1)(107.1,-108.7)(104.4,-108.1)(101.7,-110.1)(95.7,-114.1)(87.7,-112.8)(81.1,-114.1)(77.1,-117.5)(71.7,-114.8)(66.4,-116.1)(61.1,-118.1)(55.7,-116.8)(47.7,-114.1)(42.4,-114.8)(37.1,-113.1)(33.1,-111.4)(33.7,-106.7)(31.1,-111.1)(25.1,-109.4)(25.7,-101.3)(24,-100)}
\reg{lvB}{(48.4,-100.3)(49.1,-98.3)(51.7,-97.3)(52.4,-95.3)(55.7,-96.6)(57.7,-94.3)(61.1,-97.3)(64.4,-98.7)(67.7,-96.6)(71.7,-94.6)(75.7,-96.6)(78.4,-96.6)(82.4,-94.6)(85.1,-95.3)(87.7,-99.3)(90.4,-95.3)(93.7,-96)(96.4,-93.3)(98.4,-100)(99.7,-100.3)(93.1,-103.4)(90.4,-109.7)(89.1,-102.7)(86.4,-103.4)(85.7,-109.7)(83.7,-106)(81.1,-110)(79.1,-106.7)(76,-112.4)(73.1,-110.7)(67.7,-113.1)(64.4,-108.1)(60.4,-113.4)(55.7,-112.4)(51.7,-110.1)(51.1,-104.7)(48.4,-101.3)}
\reg{lvB}{(101.7,-97.7)(105.7,-97.3)(107.1,-103.4)(104.4,-101.4)(101.7,-100.3)}
\reg{lvB}{(111.7,-89.9)(113.1,-99.3)(111.7,-103.4)(109.5,-100)(111,-97.3)}
\reg{lvB}{(144.4,-107.4)(145.1,-108.7)(144.4,-110.4)(143.5,-108.7)}
\dashline{(47.3,-102.3)(53.1,-103.4)(59.7,-103.9)(67.7,-104)(75.7,-103.7)(85.1,-102.7)(93.1,-101.3)(101.1,-100)(110.4,-97.7)(119.7,-95.3)(129.1,-93)(137.1,-90.9)(142.1,-89.8)}
\end{axis}
\cbar{717.5}{308}{187}{10}{40.5}{7.2}

% ---------- (e)
\begin{axis}[panel={55.5}{58.75}{254}{190.5}{9.4}{19.5}{39}]
\band{lvG}{(10,-120)(150,-120)(150,-30)(10,-30)}
\band{lvS}{(10,-120)(14.5,-120)(13.3,-105)(13.3,-30)(10,-30)}
\band{lvS}{(13.5,-30)(13.5,-50)(16.8,-50)(16.8,-30)(17.5,-30)(17.5,-50)(20.7,-50)(20.7,-30)(21.8,-30)(21.8,-50)(24,-50)(24,-55)(13.5,-55)}
\reg{lvS}{(24,-50)(25.3,-40.2)(26.6,-48.9)(29.3,-46.9)(33.9,-47.2)(35.8,-50.6)(38.4,-51.2)(40.4,-44.6)(47,-44.9)(48.3,-48.9)(50.9,-53.2)(54.2,-54.2)(55.9,-58.9)(59.4,-55.6)(62.7,-58.9)(67.9,-56.2)(71.9,-56.9)(73.2,-60.9)(75.8,-62.2)(77.8,-56.6)(80.4,-58.9)(84.3,-57.6)(86.3,-62.2)(90.2,-54.9)(93.5,-61.6)(95.5,-49.6)(96.8,-61.6)(100,-61.6)(102.7,-59.6)(106.6,-55.6)(110.5,-61.6)(116.4,-60.2)(119,-62.6)(123,-56.2)(126.2,-64.9)(130.8,-60.9)(133.5,-55.6)(136.7,-61.2)(140,-55.2)(142,-62.2)(143.9,-52.9)(146.6,-60.9)(150,-63.6)(152,-63.6)(152,-109.6)(150,-109.6)(146.6,-103.3)(143.9,-112.3)(141.3,-107.6)(138,-109.3)(134.8,-107.6)(130.8,-109.6)(126.9,-105.6)(123,-108.6)(119.7,-99.6)(119,-106.3)(115.1,-107.6)(109.9,-110.6)(106.6,-114.3)(105.3,-109)(99.4,-107.6)(96.1,-113.6)(91.5,-113)(86.3,-115)(83.7,-120)(83.7,-122)(76.4,-122)(76.4,-120)(75.8,-117)(70.6,-116.3)(65.3,-115.6)(61.4,-112.3)(57.4,-111.6)(52.2,-107)(47,-107)(41.7,-113)(39.1,-107)(35.8,-105.3)(30.6,-100.3)(27.3,-101)(22.1,-96.3)(21.4,-104.3)(22.7,-110.3)(20.1,-116.6)(18.1,-112.3)(16.2,-103)(13.5,-105.3)(13.5,-60)(13.5,-50)}
\reg{lvS}{(148.9,-48.2)(149.7,-50.6)(148.9,-52.9)(148.4,-50.6)}
\reg{lvG}{(16.2,-76.3)(16.8,-81)(16.2,-86.3)(15.8,-81)}
\reg{lvG}{(19.7,-74.3)(20.1,-81)(19.7,-86.9)(19.3,-81)}
\reg{lvG}{(22.7,-76.3)(23.1,-81)(22.7,-85)(22.3,-81)}
\reg{lvY}{(45,-28)(45,-30)(45.6,-33.5)(48.3,-32.2)(48.9,-36.9)(50.9,-32.2)(52.2,-40.9)(54.8,-36.2)(57.4,-43.2)(58.8,-38.9)(61.4,-46.9)(62.7,-40.2)(65.3,-50.2)(67.3,-42.2)(69.5,-50.4)(71.6,-50.6)(72.1,-42.9)(74.5,-47.6)(75.8,-52.2)(77.4,-44.9)(80.4,-39.9)(83,-45.2)(86,-39.9)(85,-30)(85,-28)}
\reg{lvY}{(32.5,-30)(33.8,-31)(35.2,-30)}
\reg{lvY}{(36.9,-30)(37.5,-35.2)(38.2,-30)}
\reg{lvY}{(104.4,-38.2)(104.8,-39.9)(104.2,-41.2)}
\reg{lvC}{(29.7,-60.2)(30.6,-58.2)(35.2,-57.6)(39.8,-59.2)(39.5,-62.6)(35.8,-62.9)(31.2,-65.4)(29.9,-62.2)}
\reg{lvC}{(31.2,-80.9)(31.5,-75.6)(33.2,-76.3)(35.8,-75.6)(41.7,-74.9)(45.6,-72.9)(47,-70.9)(49.6,-67.6)(53.5,-67.6)(60.1,-65.6)(62.7,-72.3)(66.6,-65.6)(69.9,-65.2)(71.9,-71.6)(74.5,-66.9)(77.8,-68.3)(82.3,-70.3)(85.6,-71.6)(88.9,-68.3)(93.5,-67.6)(96.8,-71.6)(98.7,-67.6)(102,-70.9)(106.6,-66.9)(111.2,-70.9)(115.1,-70.3)(121.7,-67.2)(126.2,-74.3)(129.5,-68.9)(134.1,-66.9)(136.7,-64.9)(140.7,-64.9)(142,-70.3)(144.6,-66.9)(150,-75.6)(152,-75.6)(152,-90.9)(150,-90.9)(147.9,-91.6)(146.6,-94.3)(143.3,-95.6)(138,-102.6)(134.8,-94.3)(132.8,-100.3)(128.2,-97)(126.2,-97)(121.7,-93)(119,-98.3)(112.5,-99.6)(107.9,-98.3)(102,-98.3)(99.4,-102.3)(95.5,-103)(92.8,-99.6)(90.2,-102.3)(86.3,-98.3)(81,-100.3)(75.8,-106.3)(73.8,-109)(70.6,-105.6)(66,-107.6)(61.4,-105.6)(56.1,-102.3)(48.3,-100.3)(43.7,-101)(41.7,-99)(37.8,-97.6)(35.8,-90.9)(33.2,-85.6)}
\reg{lvA}{(45.6,-89.6)(47.6,-82.9)(50.2,-78.3)(52.9,-80.3)(55.5,-77.3)(57.4,-80.3)(59.4,-74.9)(61.4,-80.3)(63.3,-80.9)(66.4,-72.4)(69.2,-80.3)(71.2,-78.9)(74.5,-80.3)(75.1,-75.9)(78.4,-78.9)(83,-78.9)(85,-82.6)(87.6,-82.3)(90.2,-80.3)(92.6,-74.6)(96.1,-78.9)(99.4,-80.3)(102.7,-80.6)(105.3,-74.9)(109.2,-76.3)(109.9,-94.3)(107.9,-93.6)(105.9,-88.9)(104.6,-91.9)(101.3,-91.6)(98.7,-95.6)(96.8,-91.6)(91.5,-93.6)(85,-93.3)(79.7,-95)(75.8,-97)(69.2,-98.3)(65.3,-99.3)(62.7,-100.3)(59.4,-98)(57.4,-100.3)(53.5,-95.6)(49.6,-93.3)(45.6,-91)}
\reg{lvA}{(111.4,-78.9)(114.5,-77.6)(116.4,-75.6)(119,-78.9)(119,-82.3)(117.1,-86.9)(115.1,-93.3)(113.1,-94.3)(111.6,-91.6)}
\reg{lvA}{(127.6,-76.9)(129.8,-75.3)(130.6,-81.6)(130.3,-90.3)(128.2,-84.3)(127.6,-80.9)}
\reg{lvA}{(131.5,-76.3)(132.1,-80.3)(131.5,-85.6)(131.1,-80.9)}
\reg{lvA}{(136.7,-68.9)(139.4,-68.9)(140,-74.3)(141.7,-80.9)(140,-82.9)(138.4,-90.9)(137.4,-80.9)}
\reg{lvA}{(121.4,-78.9)(121.9,-84.3)(121.4,-87.9)(121,-84.3)}
\reg{lvB}{(65.6,-78.3)(67.4,-78.3)(67.9,-86.3)(69.2,-90.6)(67.7,-91.9)(66,-90.3)(65.3,-84.3)}
\reg{lvB}{(71.2,-86.3)(73.2,-89.6)(71.9,-92.3)(70.6,-89.9)}
\reg{lvB}{(75.8,-85.6)(78.2,-87.6)(78.4,-90.9)(75.8,-91.9)(74.5,-89.3)}
\reg{lvB}{(54.2,-88.3)(57.4,-87.6)(58.5,-90.9)(57.2,-92.3)(54.8,-89.9)}
\reg{lvB}{(60.1,-89)(62.7,-89.3)(61.4,-90.9)}
\reg{lvB}{(98.3,-86.9)(99.6,-89.6)(98.3,-91.8)(97.3,-89.3)}
\dashline{(47.4,-91)(52.2,-89.3)(58.8,-88.3)(67.9,-87.7)(78.4,-87.6)(88.9,-87.8)(99.4,-87.8)(108.6,-87.1)(117.7,-85.6)(125.6,-83.6)(132.1,-80.9)(138,-77.6)(142.4,-74.9)}
\end{axis}
\cbar{325}{58.75}{190.5}{9.5}{39.5}{7.2}

% ---------- (f)
\begin{axis}[panel={453}{59.75}{255}{187}{9.2}{19.5}{39}]
\band{lvS}{(10,-120)(150,-120)(150,-30)(10,-30)}
\reg{lvG}{(15.7,-28)(15.7,-30)(14.6,-40.8)(14.3,-60.9)(15.3,-65.6)(16.6,-66.7)(17.9,-65.3)(19.8,-66)(22.4,-64.3)(27.5,-64)(32.7,-65.6)(36.6,-66.3)(41.1,-67)(45.6,-68.3)(48.2,-66.3)(53.4,-65.6)(57.2,-65.6)(59.8,-64.3)(63.7,-63)(65.6,-64.6)(67.5,-65)(70.8,-60.3)(74,-64.6)(75.9,-58.9)(77.9,-57.6)(80.5,-58.2)(83,-60.9)(85,-57.6)(86.9,-63.6)(88.8,-59.6)(92.1,-61.6)(95.9,-61.6)(98.5,-60.9)(103,-64.3)(105.6,-64.6)(109.5,-60.3)(114,-60.9)(118.5,-60.3)(120.5,-63.6)(124.3,-63)(126.9,-64.3)(129.5,-61.9)(134,-64.3)(137.2,-65)(141.7,-65.6)(145.6,-62.6)(149.5,-67)(150,-65)(152,-65)(152,-28)}
\reg{lvS}{(24.3,-28)(24.3,-30)(24.3,-33.4)(28.2,-33.7)(32.7,-33.4)(36.6,-32)(37.6,-30)(37.6,-28)}
\reg{lvS}{(19.2,-30)(19.8,-36)(20.5,-30)}
\reg{lvS}{(21.7,-30)(22.4,-40)(23,-30)}
\reg{lvY}{(54,-28)(54,-30)(53.4,-34)(51.4,-36.4)(49.9,-30.3)(48.8,-30.3)(48.2,-32.4)(46.9,-32.7)(43.7,-36.1)(39.2,-38.7)(36.6,-38.7)(31.4,-43.8)(26.5,-43.8)(26.5,-59.6)(29.5,-58.2)(34,-61.9)(36.6,-58.9)(38.5,-61.3)(40.5,-59.6)(42.4,-61.9)(46.9,-59.6)(50.8,-56.2)(54,-53.5)(57.9,-51.5)(61.1,-52.9)(65,-50.2)(67.5,-48.2)(70.1,-44.8)(72.1,-48.8)(76.6,-51.8)(79.8,-53.5)(83.7,-53.5)(88.2,-53.5)(92.1,-48.8)(94.6,-44.5)(97.2,-49.5)(100.5,-53.5)(104.3,-50.8)(106.3,-53.5)(108.8,-46.8)(110.8,-53.5)(114,-51.2)(117.9,-55.2)(120.5,-54.2)(122.4,-58.9)(125.6,-60.3)(126.9,-60.3)(128.8,-52.2)(131.4,-50.2)(134,-55.6)(135.3,-60.3)(135.9,-44.8)(138.5,-55.6)(141.7,-60.3)(143.7,-54.2)(146.3,-48.8)(147.5,-56.2)(150,-48.8)(152,-48.8)(152,-28)}
\reg{lvY}{(22.6,-48.5)(23.7,-50.2)(23,-53.9)(22,-50.9)}
\reg{lvO}{(75.9,-28)(75.9,-30)(76.6,-33.4)(78.5,-32.4)(80.5,-34.7)(82.4,-32.7)(85.6,-35.7)(88.8,-33)(90.8,-32)(92.7,-35.7)(94,-30)(94,-28)}
\reg{lvO}{(94.6,-30)(95.9,-34)(96.6,-30)}
\reg{lvO}{(105.6,-30)(106.9,-34.4)(107.8,-30)}
\reg{lvO}{(103,-30)(103.7,-32.4)(104.3,-30)}
\reg{lvO}{(39.8,-46.8)(42,-48.8)(43,-50.2)(44.3,-48.2)(45.6,-49.5)(44.3,-51.4)(42.4,-50.5)(39.2,-52.9)(37.2,-50.5)(37.9,-48.2)}
\reg{lvG}{(103.7,-122)(103.7,-120)(104.3,-108.7)(108.2,-108)(109.5,-117.4)(110.1,-108.7)(116.6,-110.7)(118.5,-120)(118.5,-122)}
\reg{lvG}{(88.2,-122)(88.2,-120)(88.8,-110.7)(90.8,-109.7)(92.7,-116.1)(95.3,-110)(97.2,-110.7)(99.2,-120)(99.2,-122)}
\reg{lvG}{(120.5,-120)(121.1,-109.7)(121.7,-120)}
\reg{lvG}{(123.7,-122)(123.7,-120)(124.3,-110.7)(126.3,-108.7)(127.2,-110.7)(126.9,-120)(126.9,-122)}
\reg{lvG}{(65,-120)(66.3,-117.8)(68.8,-120)}
\reg{lvG}{(74,-120)(75.3,-116.4)(77.9,-120)}
\reg{lvG}{(79.2,-120)(80.5,-118.1)(81.7,-120)}
\reg{lvG}{(128.8,-120)(131.4,-115.9)(134,-120)}
\reg{lvG}{(140.5,-120)(141.1,-117.4)(141.7,-120)}
\reg{lvG}{(11.4,-81.1)(11.9,-89.2)(11.4,-97.2)(11,-89.2)}
\reg{lvC}{(19.5,-109.4)(20.5,-97.9)(22.4,-85.8)(24.3,-74.4)(25,-69.3)(29.5,-69.3)(30.8,-73)(32.7,-75.1)(37.9,-76.4)(40.5,-77.4)(45.6,-75.7)(50.8,-75.7)(55.9,-74.7)(62.4,-75.1)(66.3,-77.1)(69.5,-69.7)(71.4,-79.8)(74,-73.7)(77.9,-74.4)(79.2,-80.4)(81.7,-72.4)(85.6,-74.4)(89.5,-80.4)(94,-72.4)(95.9,-78.4)(99.8,-74.4)(103,-79.1)(107.5,-72.7)(111.4,-71.7)(116.6,-72.4)(118.5,-66.7)(123,-69.3)(127.5,-69)(130.8,-68.3)(135.3,-69.7)(138.5,-70.3)(141.7,-73.7)(145,-73.7)(146.9,-69)(150,-79.8)(152,-79.8)(152,-101.3)(150,-101.3)(147.5,-106.3)(143.7,-101.3)(141.1,-108)(137.9,-100.6)(134.6,-104)(132.7,-97.2)(129.5,-105.3)(126.9,-98.6)(124.3,-105.3)(120.5,-101)(116.6,-99.3)(112.7,-102)(108.8,-104)(105.6,-109.4)(103,-108)(99.8,-107.7)(95.9,-104.6)(89.5,-107.3)(83,-107.3)(76.6,-108)(68.8,-109.4)(62.4,-108)(54.6,-109.4)(49.5,-112.7)(45,-110.7)(40.5,-114.1)(37.2,-109.4)(32.7,-115.4)(26.9,-116.8)(23,-114.1)}
\reg{lvA}{(33.7,-87.8)(37.9,-86.5)(41.7,-85.1)(46.3,-84.1)(52.1,-82.8)(57.9,-82.5)(62.4,-83.5)(68.8,-82.1)(72.7,-84.5)(76.6,-83.8)(78.5,-86.8)(80.5,-84.1)(85.6,-83.5)(90.8,-83.1)(94.6,-84.5)(99.8,-82.8)(103,-80.4)(105,-83.8)(109.5,-77.7)(112.7,-80.4)(116.6,-79.1)(118.5,-82.5)(122.4,-82.8)(126.9,-80.1)(128.2,-84.5)(128.2,-99.9)(126.3,-101.3)(123.7,-96.6)(120.5,-98.6)(116.6,-95.9)(114,-100.6)(110.8,-95.9)(107.5,-101.3)(104.3,-97.2)(102.4,-102)(100.5,-97.2)(98.5,-101.3)(93.4,-100.3)(91.4,-98.6)(88.2,-102.6)(85.6,-102)(82.4,-104.6)(76.6,-102.6)(71.4,-103.3)(67.5,-103)(62.4,-99.6)(57.2,-102.6)(53.4,-100.6)(50.1,-106.3)(44.3,-105)(39.8,-106)(35.9,-102.6)(34,-94.6)}
\reg{lvA}{(31.7,-89.5)(32.1,-94.6)(30.8,-109.4)(28.8,-101.3)(29.5,-97.2)}
\reg{lvA}{(27.8,-107)(28.5,-108.7)(27.8,-110.4)(27.2,-108.7)}
\reg{lvA}{(130.8,-83.8)(132.7,-79.1)(133.4,-86.5)(132.1,-91.9)(129.5,-87.8)}
\reg{lvA}{(138.5,-86.5)(141.1,-85.1)(143,-87.8)(143,-91.9)(139.8,-91.9)(138.5,-89.9)}
\reg{lvA}{(146.3,-87.8)(149.5,-85.8)(152,-85.8)(152,-97.2)(150,-97.2)(148.2,-98.6)(146.5,-91.9)}
\reg{lvB}{(47.5,-93.5)(48.8,-88.5)(52.1,-87.8)(58.5,-87.5)(62.4,-88.2)(67.5,-87.8)(70.1,-88.5)(70.4,-93.2)(69.9,-95.6)(67.5,-93.6)(63.7,-94.2)(61.1,-92.9)(50.8,-93.9)(50.1,-100.6)(47.5,-100.7)(45,-99.6)(46.9,-97.9)}
\reg{lvB}{(72.2,-91.2)(73.1,-91.2)(72.7,-98.4)}
\reg{lvB}{(74.6,-88.5)(76.6,-90.5)(75.6,-99.9)(74.9,-94.1)}
\reg{lvB}{(90.8,-88.5)(94.6,-89.9)(92.7,-93.9)(91.4,-91.2)}
\reg{lvB}{(100.5,-89.2)(102.4,-85.8)(103.7,-89.2)(103.7,-93.2)(101.7,-92.2)(100.5,-91.2)}
\reg{lvB}{(106.3,-87.8)(108.2,-84.8)(112.7,-85.1)(115.3,-87.8)(117.9,-87.8)(124.3,-86.8)(125.6,-89.9)(123.7,-93.2)(117.9,-91.2)(116.6,-93.9)(113.4,-94.2)(111.4,-91.9)(107.5,-95.3)(106.3,-91.2)}
\reg{lvN}{(113.4,-88.8)(114.7,-89.9)(113.8,-91.2)(112.5,-89.9)}
\dashline{(47.3,-94.2)(53.4,-92.5)(61.1,-91.2)(71.4,-90.2)(81.7,-89.9)(93.4,-89.5)(106.3,-88.8)(117.9,-87.8)(123,-87.2)(130.8,-85.5)(137.2,-83.9)(142.6,-82.5)}
\end{axis}
\cbar{724}{59.75}{187}{9.5}{38.5}{7.2}

% ---------- captions
\node[font=\capfont\fontsize{17.5}{20}\selectfont] at (190.5pt,514pt) {(\textbf{a})};
\node[font=\capfont\fontsize{17.5}{20}\selectfont] at (586pt,514pt) {(\textbf{b})};
\node[font=\capfont\fontsize{17.5}{20}\selectfont] at (190.5pt,265pt) {(\textbf{c})};
\node[font=\capfont\fontsize{17.5}{20}\selectfont] at (586pt,265pt) {(\textbf{d})};
\node[font=\capfont\fontsize{17.5}{20}\selectfont] at (190.5pt,16pt) {(\textbf{e})};
\node[font=\capfont\fontsize{17.5}{20}\selectfont] at (586pt,16pt) {(\textbf{f})};
\end{tikzpicture}
\end{document}
